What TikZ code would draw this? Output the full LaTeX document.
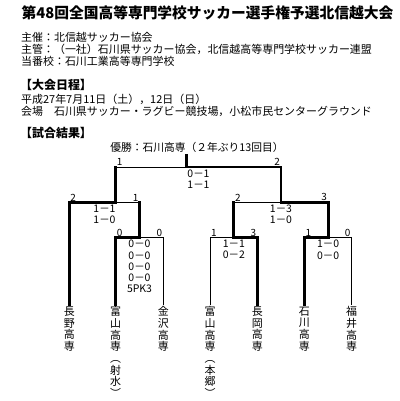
\documentclass[tikz,border=0pt]{standalone}
\usepackage{fontspec}
\setmainfont{Noto Sans CJK JP}
\usetikzlibrary{positioning,calc}

\begin{document}
\begin{tikzpicture}[x=1bp,y=-1bp,
 txt/.style={anchor=west,inner sep=0,font=\fontsize{11}{12}\selectfont},
 hdr/.style={anchor=west,inner sep=0,font=\fontsize{12}{13}\selectfont\bfseries},
 team/.style={anchor=north,inner sep=1.5bp,align=center,font=\fontsize{11}{11.7}\selectfont},
 sc/.style={anchor=north,inner sep=0,align=center,font=\fontsize{10.5}{11.3}\selectfont},
 ptl/.style={anchor=south west,inner sep=1bp,font=\fontsize{10}{10}\selectfont},
 ptr/.style={anchor=south east,inner sep=1bp,font=\fontsize{10}{10}\selectfont},
 win/.style={line width=2.8bp,line cap=rect},
 lose/.style={line width=0.8bp}]
\useasboundingbox (0,0) rectangle (400,401);
\node[anchor=center,inner sep=0,font=\fontsize{14.8}{16}\selectfont\bfseries] (title) at (207.5,13) {第48回全国高等専門学校サッカー選手権予選北信越大会};
\node[txt] (host) at (21,37) {主催：北信越サッカー協会};
\node[txt] (org) at (21,49.3) {主管：（一社）石川県サッカー協会，北信越高等専門学校サッカー連盟};
\node[txt] (duty) at (21,61.7) {当番校：石川工業高等専門学校};
\node[hdr] (sched) at (20,85) {【大会日程】};
\node[txt] (date) at (21,99.3) {平成27年7月11日（土），12日（日）};
\node[txt] (venue) at (21,111) {会場　石川県サッカー・ラグビー競技場，小松市民センターグラウンド};
\node[hdr] (res) at (20,133) {【試合結果】};
\node[anchor=center,inner sep=0,font=\fontsize{10.8}{12}\selectfont] (champ) at (197,147) {優勝：石川高専（２年ぶり13回目）};

% teams
\node[team] (t1) at (69.3,305) {長\\野\\高\\専};
\node[team] (t2) at (115.7,305) {富\\山\\高\\専\\︵\\射\\水\\︶};
\node[team] (t3) at (163.3,305) {金\\沢\\高\\専};
\node[team] (t4) at (210,305) {富\\山\\高\\専\\︵\\本\\郷\\︶};
\node[team] (t5) at (257.3,305) {長\\岡\\高\\専};
\node[team] (t6) at (304.3,305) {石\\川\\高\\専};
\node[team] (t7) at (351.7,305) {福\\井\\高\\専};

% junctions
\coordinate (q1) at (139.5,237.5);
\coordinate (q2) at (233.8,237.5);
\coordinate (q3) at (328.2,237.5);
\coordinate (s1) at (115.7,202.3);
\coordinate (s2) at (281,202.3);
\coordinate (f) at (186.7,167);
\coordinate (top) at (186.7,155);

% thin lines
\draw[lose] (t3.north) |- (q1);
\draw[lose] (t4.north) |- (q2);
\draw[lose] (t7.north) |- (q3);
\draw[lose] (q1 |- s1) -- (s1);
\draw[lose] (q2 |- s2) -- (s2);
\draw[lose] (s1 |- f) -- (f);
% winners
\draw[win] (t2.north) |- (q1) -- (q1 |- s1);
\draw[win] (t5.north) |- (q2) -- (q2 |- s2);
\draw[win] (t1.north) |- (s1) -- (s1 |- f);
\draw[win] (t6.north) |- (q3) -- (q3 |- s2) -- (s2) -- (s2 |- f) -- (f) -- (top);

% goals
\node[ptl] (g2) at (t2.north |- q1) {0};
\node[ptr] (g3) at (t3.north |- q1) {0};
\node[ptl] (g4) at (t4.north |- q2) {1};
\node[ptr] (g5) at (t5.north |- q2) {3};
\node[ptl] (g6) at (t6.north |- q3) {1};
\node[ptr] (g7) at (t7.north |- q3) {0};
\node[ptl] (g1) at (t1.north |- s1) {2};
\node[ptr] (gq1) at (q1 |- s1) {1};
\node[ptl] (gq2) at (q2 |- s2) {2};
\node[ptr] (gq3) at (q3 |- s2) {3};
\node[ptl] (gs1) at (s1 |- f) {1};
\node[ptr] (gs2) at (s2 |- f) {2};

% scores
\node[sc] (r1) at (139.5,240) {0－0\\0－0\\0－0\\0－0\\5PK3};
\node[sc] (r2) at (233.8,240) {1－1\\0－2};
\node[sc] (r3) at (328.2,240) {1－0\\0－0};
\node[sc] (r4) at (104.5,204.5) {1－1\\1－0};
\node[sc] (r5) at (281,204.5) {1－3\\1－0};
\node[sc] (r6) at (198.5,169.5) {0－1\\1－1};
\end{tikzpicture}
\end{document}
